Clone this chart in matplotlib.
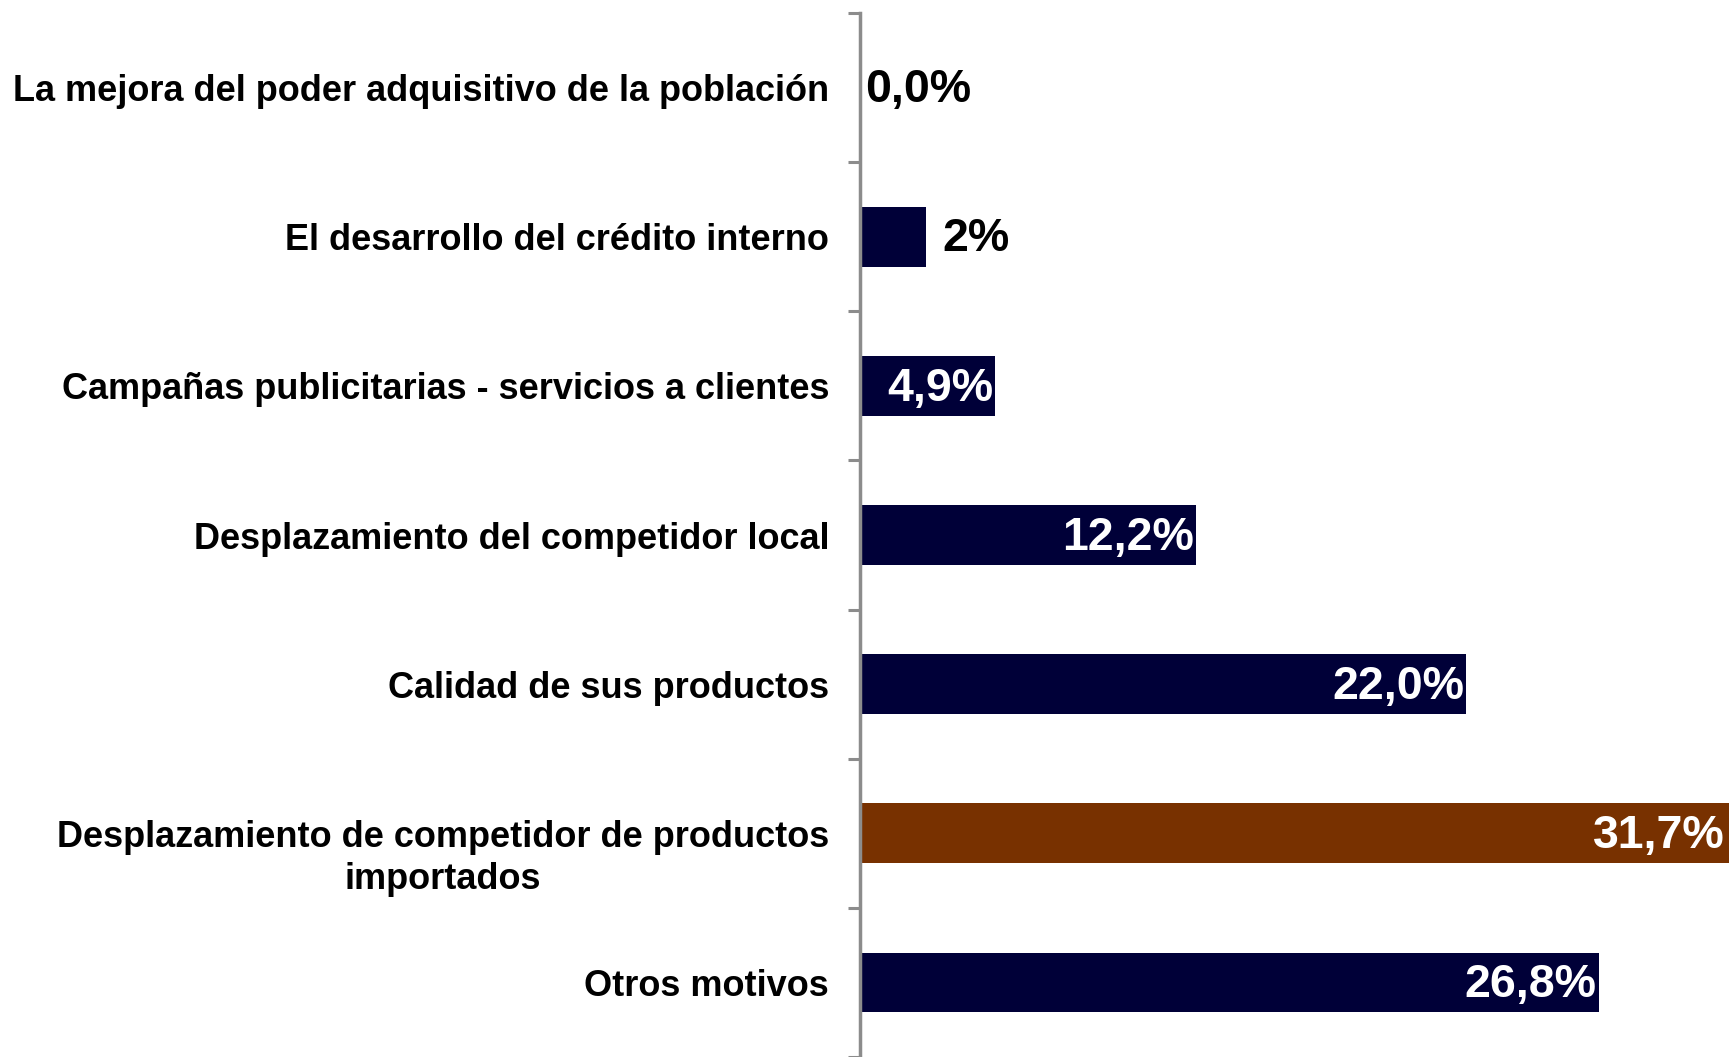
import matplotlib
matplotlib.use("Agg")
import matplotlib.pyplot as plt
import matplotlib.transforms as mtransforms
from matplotlib.ticker import FixedLocator

plt.rcParams['font.family'] = ['Liberation Sans', 'DejaVu Sans']

categories = [
    "La mejora del poder adquisitivo de la población",
    "El desarrollo del crédito interno",
    "Campañas publicitarias - servicios a clientes",
    "Desplazamiento del competidor local",
    "Calidad de sus productos",
    "Desplazamiento de competidor de productos\nimportados",
    "Otros motivos",
]
values = [0.0, 2.4, 4.9, 12.2, 22.0, 31.7, 26.8]
value_labels = ["0,0%", "2%", "4,9%", "12,2%", "22,0%", "31,7%", "26,8%"]
highlight = "Desplazamiento de competidor de productos\nimportados"

NAVY = "#000038"
BROWN = "#783100"
GRAY = "#8c8c8c"

W, H, DPI = 1729, 1057, 100
fig = plt.figure(figsize=(W / DPI, H / DPI), dpi=DPI)
ax = fig.add_axes([860 / W, 0, 1 - 860 / W, 1 - 13 / H])

y = list(range(len(categories)))
colors = [BROWN if c == highlight else NAVY for c in categories]
ax.barh(y, values, height=0.4, color=colors, zorder=1)

ax.set_ylim(len(categories) - 0.5, -0.5)
xmax = 31.53
ax.set_xlim(0, xmax)

# category boundaries as outward ticks, labels drawn as text
ax.set_yticks([])
ax.yaxis.set_minor_locator(FixedLocator([i - 0.5 for i in range(len(categories) + 1)]))
ax.tick_params(axis='y', which='minor', length=8.6, width=2.2, color=GRAY, direction='out')
ax.set_xticks([])

# first line of a wrapped label sits on the bar centre (Excel style)
line_pitch = 42  # px
for yi, cat in zip(y, categories):
    n_extra = cat.count("\n")
    dy = -4 - n_extra * line_pitch / 2
    tr = mtransforms.blended_transform_factory(ax.transAxes, ax.transData) + \
        mtransforms.ScaledTranslation(-31 / DPI, dy / DPI, fig.dpi_scale_trans)
    ax.text(0, yi, cat, transform=tr, ha='right', va='center',
            multialignment='center', linespacing=1.25,
            fontsize=26, fontweight='bold', color='black')

for s in ['top', 'right', 'bottom']:
    ax.spines[s].set_visible(False)
ax.spines['left'].set_color(GRAY)
ax.spines['left'].set_linewidth(2.5)
ax.spines['left'].set_zorder(3)

# value labels: small bars outside in black, others inside in white
for yi, v, lab in zip(y, values, value_labels):
    if v < 3:
        pad = 4 if v == 0 else 12
        ax.annotate(lab, (v, yi), xytext=(pad, -2), textcoords='offset points',
                    ha='left', va='center', fontsize=33.5, fontweight='bold', color='black')
    else:
        ax.annotate(lab, (min(v, xmax), yi), xytext=(-1.5 if v < xmax else -3, -2),
                    textcoords='offset points', ha='right', va='center',
                    fontsize=33.5, fontweight='bold', color='white')

fig.savefig("out.png", dpi=DPI)
